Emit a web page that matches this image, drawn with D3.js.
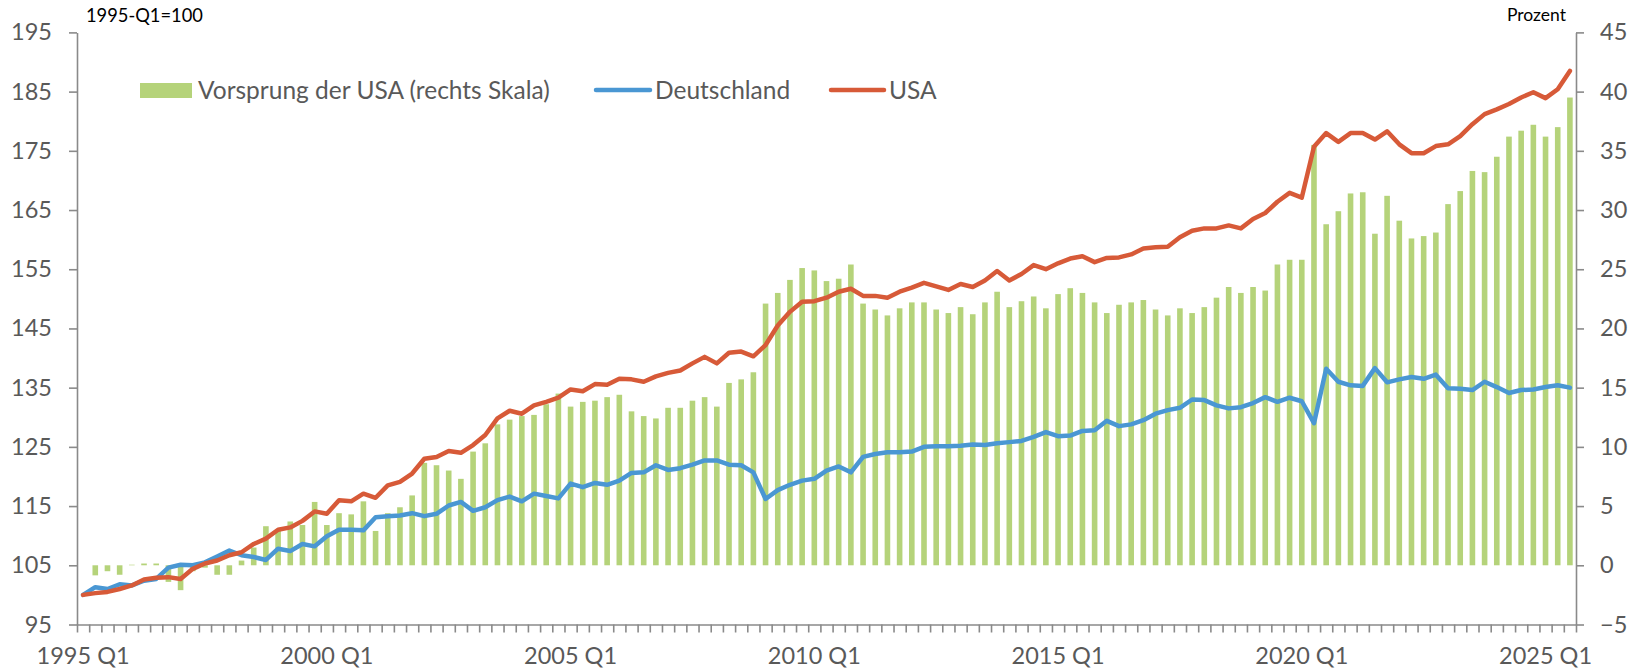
<!DOCTYPE html>
<html>
<head>
<meta charset="utf-8">
<script src="https://cdn.jsdelivr.net/npm/d3@7"></script>
<style>
  html, body { margin: 0; padding: 0; background: #ffffff; }
  svg { display: block; }
  text { font-family: Lato, "Open Sans", sans-serif; }
</style>
</head>
<body>
<svg id="chart" width="1641" height="671"></svg>
<script>
// ---------- data ----------
const startYear = 1995;
const quarterCount = 123; // 1995 Q1 .. 2025 Q3
const categories = [];
for (let k = 0; k < quarterCount; k++) {
  categories.push((startYear + Math.floor(k / 4)) + " Q" + (k % 4 + 1));
}
const tickLabels = ["1995 Q1", "2000 Q1", "2005 Q1", "2010 Q1", "2015 Q1", "2020 Q1", "2025 Q1"];
const leftTicks = [95, 105, 115, 125, 135, 145, 155, 165, 175, 185, 195];
const rightTicks = [-5, 0, 5, 10, 15, 20, 25, 30, 35, 40, 45];

const usa = [
  100.0, 100.3, 100.5, 101.0, 101.6, 102.6, 102.9, 103.0, 102.7, 104.4,
  105.3, 105.8, 106.7, 107.2, 108.6, 109.5, 111.0, 111.4, 112.5, 114.1,
  113.7, 116.0, 115.8, 117.1, 116.4, 118.5, 119.1, 120.5, 123.0, 123.3,
  124.3, 124.0, 125.3, 127.0, 129.8, 131.1, 130.6, 132.0, 132.6, 133.3,
  134.7, 134.4, 135.6, 135.5, 136.5, 136.4, 136.0, 136.9, 137.5, 137.9,
  139.1, 140.2, 139.1, 140.9, 141.1, 140.3, 142.2,
  145.5, 147.8, 149.5, 149.6, 150.2, 151.2, 151.7, 150.5, 150.5, 150.2,
  151.2, 151.9, 152.7, 152.1, 151.5, 152.5, 152.0, 153.1, 154.7, 153.1,
  154.2, 155.7, 155.0, 156.0, 156.8, 157.2, 156.2,
  156.9, 157.0, 157.5, 158.5, 158.7, 158.8, 160.4, 161.5, 161.9, 161.9,
  162.4, 161.9, 163.5, 164.5, 166.4, 167.9, 167.1, 175.7, 178.0, 176.5,
  178.0, 178.0, 176.9, 178.3, 176.1, 174.6, 174.6, 175.8, 176.1, 177.5,
  179.5, 181.2, 182.0, 182.9, 184.0, 184.9, 183.9, 185.4, 188.5
];

const deutschland = [
  100.0, 101.3, 101.0, 101.8, 101.6, 102.4, 102.7, 104.6, 105.1, 105.0,
  105.5, 106.5, 107.5, 106.7, 106.4, 105.9, 107.8, 107.4, 108.6, 108.2,
  109.9, 111.0, 111.0, 110.9, 113.1, 113.3, 113.4, 113.8, 113.3, 113.7,
  115.1, 115.7, 114.2, 114.8, 116.0, 116.6, 115.8, 117.1, 116.7, 116.3,
  118.8, 118.2, 118.9, 118.6, 119.3, 120.6, 120.7, 121.9, 121.1, 121.4,
  122.0, 122.7, 122.7, 122.0, 121.9, 120.7, 116.2, 117.7, 118.6, 119.3,
  119.6, 121.0, 121.7, 120.7, 123.3, 123.8, 124.1, 124.1, 124.2, 125.0,
  125.1, 125.1, 125.2, 125.4, 125.3, 125.6, 125.8, 126.0, 126.7, 127.5,
  126.8, 126.9, 127.7, 127.8,
  129.4, 128.5, 128.8, 129.5, 130.6, 131.2, 131.6, 133.0, 132.9, 132.0,
  131.5, 131.7, 132.4, 133.4, 132.6, 133.3, 132.7, 129.0, 138.2, 136.0,
  135.4, 135.3, 138.3, 135.9, 136.4, 136.8, 136.5, 137.2, 134.9, 134.8,
  134.6, 136.0, 135.1, 134.1, 134.6, 134.7, 135.1, 135.4, 135.0
];

const vorsprung = [
  0.0, -0.85, -0.5, -0.8, 0.05, 0.15, 0.15, -1.4, -2.1, -0.5,
  -0.2, -0.8, -0.8, 0.4, 1.5, 3.3, 3.0, 3.7, 3.4, 5.35,
  3.4, 4.4, 4.3, 5.4, 2.9, 4.4, 4.9, 5.9, 8.65, 8.45,
  8.0, 7.3, 9.6, 10.3, 11.9, 12.3, 12.6, 12.7, 13.6, 14.5,
  13.4, 13.8, 13.9, 14.2, 14.4, 13.0, 12.6, 12.4, 13.3, 13.3,
  13.9, 14.2, 13.4, 15.4, 15.7, 16.3,
  22.1, 23.0, 24.1, 25.1, 24.9, 24.0, 24.2, 25.4, 22.1, 21.6,
  21.1, 21.7, 22.2, 22.2, 21.6, 21.3, 21.8, 21.2, 22.2, 23.1,
  21.8, 22.3, 22.7, 21.7, 22.9, 23.4, 23.0, 22.2,
  21.3, 22.0, 22.2, 22.4, 21.6, 21.1, 21.7, 21.3, 21.8, 22.6,
  23.5, 23.0, 23.5, 23.2, 25.4, 25.8, 25.8, 35.5, 28.8, 29.9,
  31.4, 31.5, 28.0, 31.2, 29.1, 27.6, 27.8, 28.1, 30.5, 31.6,
  33.3, 33.2, 34.5, 36.2, 36.7, 37.2, 36.2, 37.0, 39.5
];

const seriesNames = ["Vorsprung der USA (rechts Skala)", "Deutschland", "USA"];
const colors = { bar: "#b5d37a", de: "#4a97d3", us: "#d75a38", axis: "#8a8a8a", text: "#595959" };

// ---------- layout ----------
const svg = d3.select("#chart");
const plot = { left: 77, right: 1576, top: 32.4, bottom: 624.5 };
const tickFont = 23.5;
const legendFont = 24.5;

const x = d3.scaleBand().domain(categories).range([plot.left, plot.right]).padding(0);
const xIdx = d3.scaleLinear().domain([0, categories.length]).range([plot.left, plot.right]);
const yL = d3.scaleLinear().domain([95, 195]).range([plot.bottom, plot.top]);
const yR = d3.scaleLinear().domain([-5, 45]).range([plot.bottom, plot.top]);
const bw = x.bandwidth();
const cx = c => x(c) + bw / 2;

// ---------- bars ----------
const barW = bw * 0.46;
svg.append("g").selectAll("rect")
  .data(categories.map((c, i) => ({ c, v: vorsprung[i] })))
  .join("rect")
  .attr("x", d => cx(d.c) - barW / 2)
  .attr("y", d => yR(Math.max(0, d.v)))
  .attr("width", barW)
  .attr("height", d => Math.abs(yR(d.v) - yR(0)))
  .attr("fill", colors.bar);

// ---------- lines ----------
const line = d3.line().x(d => cx(d.c)).y(d => yL(d.v));
svg.append("path")
  .datum(categories.map((c, i) => ({ c, v: deutschland[i] })))
  .attr("d", line).attr("fill", "none").attr("stroke", colors.de)
  .attr("stroke-width", 4.5).attr("stroke-linejoin", "round").attr("stroke-linecap", "round");
svg.append("path")
  .datum(categories.map((c, i) => ({ c, v: usa[i] })))
  .attr("d", line).attr("fill", "none").attr("stroke", colors.us)
  .attr("stroke-width", 4.5).attr("stroke-linejoin", "round").attr("stroke-linecap", "round");

// ---------- axes ----------
function styleAxis(g) {
  g.selectAll(".domain").attr("stroke", colors.axis).attr("stroke-width", 1.6);
  g.selectAll(".tick line").attr("stroke", colors.axis).attr("stroke-width", 1.6);
  g.selectAll("text").attr("fill", colors.text).style("font-family", "Lato, 'Open Sans', sans-serif").style("font-size", tickFont + "px");
}

svg.append("g").attr("transform", `translate(${plot.left},0)`)
  .call(d3.axisLeft(yL).tickValues(leftTicks).tickFormat(d3.format("d")).tickSize(8).tickSizeOuter(0).tickPadding(17))
  .call(styleAxis);

svg.append("g").attr("transform", `translate(${plot.right},0)`)
  .call(d3.axisRight(yR).tickValues(rightTicks).tickFormat(d3.format("d")).tickSize(8).tickSizeOuter(0).tickPadding(16))
  .call(styleAxis);

// quarter tick marks on the category boundaries
svg.append("g").attr("transform", `translate(0,${plot.bottom})`)
  .call(d3.axisBottom(xIdx).tickValues(d3.range(categories.length + 1)).tickFormat("").tickSize(8).tickSizeOuter(0))
  .call(styleAxis);

// category labels
svg.append("g").attr("transform", `translate(0,${plot.bottom})`)
  .call(d3.axisBottom(x).tickValues(tickLabels).tickSize(0).tickPadding(22.8))
  .call(g => g.select(".domain").remove())
  .call(styleAxis);

// ---------- axis titles ----------
svg.append("text").attr("x", 86).attr("y", 21.5)
  .attr("fill", "#000").style("font-size", "18.3px").text("1995-Q1=100");
svg.append("text").attr("x", 1566).attr("y", 20.5).attr("text-anchor", "end")
  .attr("fill", "#000").style("font-size", "17.5px").text("Prozent");

// ---------- legend ----------
const lg = svg.append("g");
lg.append("rect").attr("x", 140).attr("y", 83).attr("width", 52).attr("height", 15).attr("fill", colors.bar);
lg.append("text").attr("x", 198).attr("y", 98.5).attr("fill", colors.text).style("font-size", legendFont + "px").text(seriesNames[0]);
lg.append("line").attr("x1", 596).attr("x2", 650).attr("y1", 90).attr("y2", 90)
  .attr("stroke", colors.de).attr("stroke-width", 4.5).attr("stroke-linecap", "round");
lg.append("text").attr("x", 655).attr("y", 98.5).attr("fill", colors.text).style("font-size", legendFont + "px").text(seriesNames[1]);
lg.append("line").attr("x1", 831).attr("x2", 884).attr("y1", 90).attr("y2", 90)
  .attr("stroke", colors.us).attr("stroke-width", 4.5).attr("stroke-linecap", "round");
lg.append("text").attr("x", 889).attr("y", 98.5).attr("fill", colors.text).style("font-size", legendFont + "px").text(seriesNames[2]);
</script>
</body>
</html>
